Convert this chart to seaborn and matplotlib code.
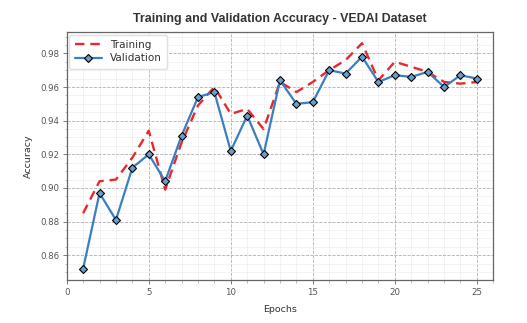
import matplotlib
matplotlib.use("Agg")
import matplotlib.pyplot as plt
import seaborn as sns
import pandas as pd
from matplotlib.ticker import AutoMinorLocator, MultipleLocator

epochs = list(range(1, 26))
train_acc = [0.885, 0.904, 0.905, 0.918, 0.934, 0.899, 0.927, 0.949, 0.960, 0.944,
             0.947, 0.935, 0.963, 0.957, 0.963, 0.970, 0.976, 0.986, 0.964, 0.975,
             0.972, 0.969, 0.963, 0.962, 0.963]
val_acc = [0.852, 0.897, 0.881, 0.912, 0.920, 0.904, 0.931, 0.954, 0.957, 0.922,
           0.943, 0.920, 0.964, 0.950, 0.951, 0.970, 0.968, 0.978, 0.963, 0.967,
           0.966, 0.969, 0.960, 0.967, 0.965]

title = "Training and Validation Accuracy - VEDAI Dataset"
xlabel = "Epochs"
ylabel = "Accuracy"

df = pd.DataFrame({"Epoch": epochs, "Training": train_acc, "Validation": val_acc})

sns.set_style("white")
plt.rcParams["font.family"] = ["DejaVu Sans"]

fig = plt.figure(figsize=(5.27, 3.23), dpi=100)
ax = fig.add_axes([0.1266, 0.133, 0.8094, 0.768])

sns.lineplot(data=df, x="Epoch", y="Training", ax=ax, color="#e8282b",
             linestyle=(0, (4, 2.5)), linewidth=1.7, label="Training")
sns.lineplot(data=df, x="Epoch", y="Validation", ax=ax, color="#3a7fc1",
             linewidth=1.6, marker="D", markersize=3.8,
             markerfacecolor="#6b9ecf", markeredgecolor="black",
             markeredgewidth=0.8, label="Validation")

ax.set_xlim(0, 26)
ax.xaxis.set_major_locator(MultipleLocator(5))
ax.xaxis.set_minor_locator(AutoMinorLocator(5))
ax.yaxis.set_major_locator(MultipleLocator(0.02))
ax.yaxis.set_minor_locator(AutoMinorLocator(4))

ax.grid(which="major", linestyle="--", linewidth=0.6, color="#b0b0b0")
ax.grid(which="minor", linestyle="-", linewidth=0.4, color="#ebebeb")
ax.set_axisbelow(True)

for s in ax.spines.values():
    s.set_color("#666666")
    s.set_linewidth(0.9)

ax.tick_params(axis="both", which="major", direction="out", length=3, width=0.6,
               colors="#666666", labelcolor="#555555", labelsize=6.2,
               bottom=True, left=True, pad=2.5)
ax.tick_params(axis="both", which="minor", direction="out", length=1.8, width=0.4,
               colors="#888888", bottom=True, left=True)

ax.set_xlabel(xlabel, fontsize=6.8, color="#333333", labelpad=6)
ax.set_ylabel(ylabel, fontsize=6.8, color="#333333", labelpad=5)
ax.set_title(title, fontsize=8.9, fontweight="bold", color="#333333",
             family=["Liberation Sans", "DejaVu Sans"], pad=7)

leg = ax.legend(loc="upper left", fontsize=7.5, frameon=True, framealpha=1.0,
                edgecolor="#e0e0e0", handlelength=2.6, borderpad=0.5,
                labelspacing=0.35, borderaxespad=0.25, handletextpad=0.8)
for t in leg.get_texts():
    t.set_color("#333333")

fig.savefig("out.png", dpi=100)
